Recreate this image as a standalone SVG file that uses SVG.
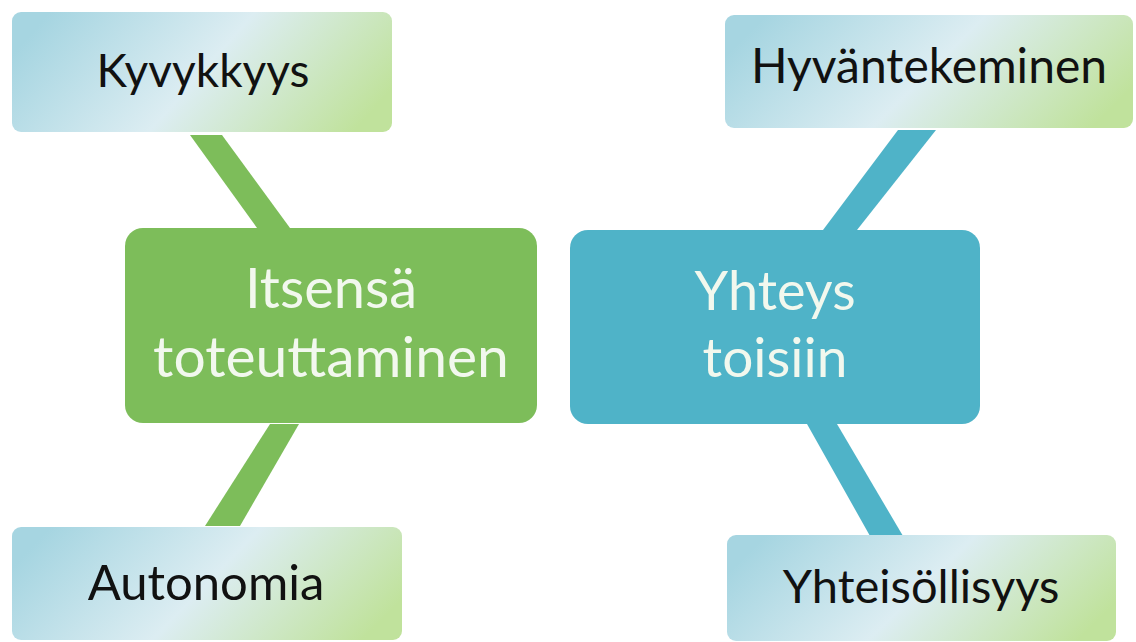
<svg xmlns="http://www.w3.org/2000/svg" width="1136" height="642" viewBox="0 0 1136 642">
<style>
.lt{font-family:Lato,"Open Sans","Liberation Sans",sans-serif;font-size:47px;fill:#111;text-anchor:middle}
.ct{font-family:Lato,"Open Sans","Liberation Sans",sans-serif;font-size:56px;fill:#f2f8ee;text-anchor:middle}
.g{fill:#7dbd5a}
.b{fill:#4fb3c8}
</style>
<defs>
<linearGradient id="lg" x1="0" y1="0.36" x2="1" y2="0.64">
<stop offset="0" stop-color="#a6d5e1"/>
<stop offset="0.5" stop-color="#dcedf2"/>
<stop offset="1" stop-color="#c0e29c"/>
</linearGradient>
</defs>
<rect width="1136" height="642" fill="#ffffff"/>
<g id="connectors">
<polygon class="g" points="190,135 222,135 290,228 257,228"/>
<polygon class="g" points="270,424 299,424 240,526 205,526"/>
<polygon class="b" points="898,130 936,130 857,230 823,230"/>
<polygon class="b" points="807,424 837,424 903,536 870,536"/>
</g>
<g id="kyvykkyys">
<rect x="12" y="12" width="380" height="120" rx="9" fill="url(#lg)"/>
<text class="lt" x="203" y="87" style="font-size:46px">Kyvykkyys</text>
</g>
<g id="autonomia">
<rect x="12" y="527" width="390" height="113" rx="9" fill="url(#lg)"/>
<text class="lt" x="206" y="600" style="font-size:49px">Autonomia</text>
</g>
<g id="hyvantekeminen">
<rect x="725" y="15" width="408" height="113" rx="9" fill="url(#lg)"/>
<text class="lt" x="929" y="83" style="font-size:48px">Hyväntekeminen</text>
</g>
<g id="yhteisollisyys">
<rect x="727" y="535" width="389" height="106" rx="9" fill="url(#lg)"/>
<text class="lt" x="921" y="603">Yhteisöllisyys</text>
</g>
<g id="itsensa">
<rect class="g" x="125" y="228" width="412" height="195" rx="18"/>
<text class="ct" x="331" y="308">Itsensä</text>
<text class="ct" x="331" y="377" style="font-size:57px">toteuttaminen</text>
</g>
<g id="yhteys">
<rect class="b" x="570" y="230" width="410" height="194" rx="18"/>
<text class="ct" x="775" y="310" style="font-size:54px">Yhteys</text>
<text class="ct" x="775" y="377" style="font-size:55px">toisiin</text>
</g>
</svg>
